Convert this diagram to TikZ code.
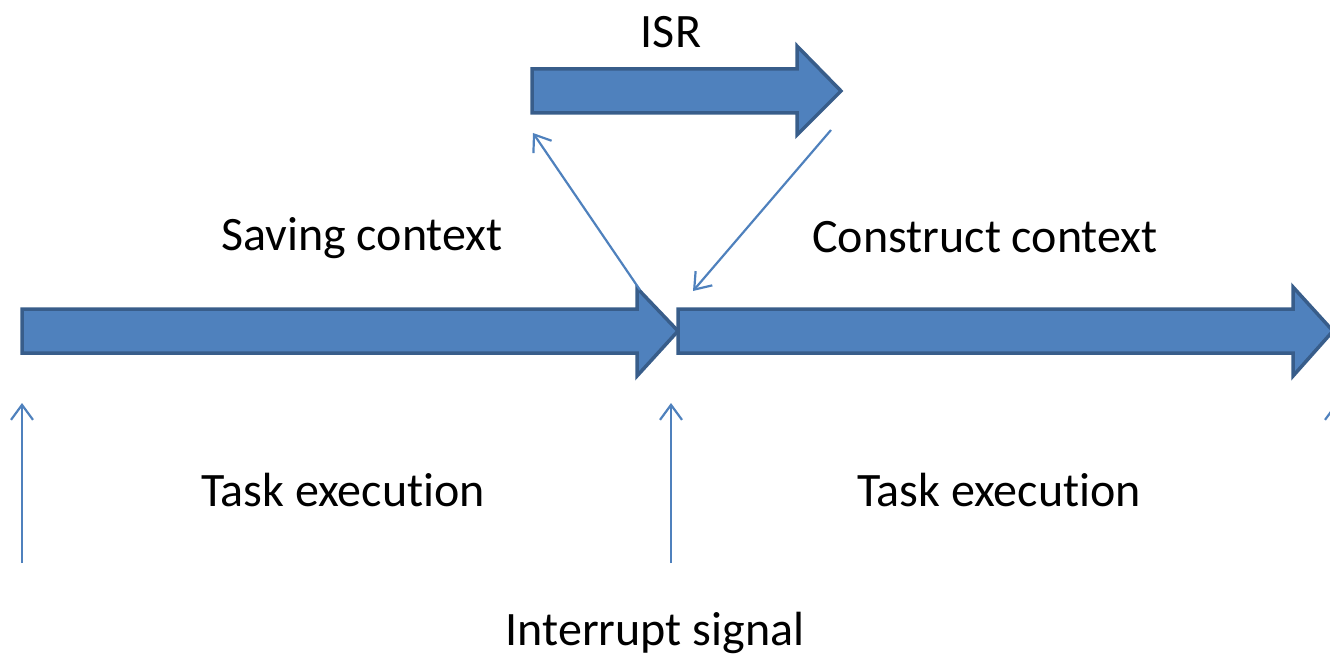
\documentclass[tikz,border=0pt]{standalone}
\usepackage{fontspec}
\setmainfont{Carlito}[RawFeature=-liga]
\usetikzlibrary{arrows.meta}
\definecolor{arrfill}{HTML}{4F81BD}
\definecolor{arrline}{HTML}{385D8A}
\begin{document}
\begin{tikzpicture}[x=1pt,y=-1pt,
  blockarrow/.style={fill=arrfill,draw=arrline,line width=3.5pt,line join=miter},
  thin/.style={draw=arrfill,line width=2.2pt,-{Straight Barb[length=15pt,width=22pt,line width=2.2pt]}},
  lbl/.style={font=\fontsize{48}{57}\selectfont,text=black,inner sep=0pt}]
\useasboundingbox (0,0) rectangle (1330,658);
% big arrows
\draw[blockarrow] (22,309) -- (637,309) -- (637,288) -- (678,331) -- (637,376) -- (637,353) -- (22,353) -- cycle;
\draw[blockarrow] (678,309) -- (1293,309) -- (1293,287) -- (1333,331) -- (1293,376) -- (1293,353) -- (678,353) -- cycle;
\draw[blockarrow] (532,69) -- (797,69) -- (797,46) -- (841,91) -- (797,135) -- (797,113) -- (532,113) -- cycle;
% coordinates
\coordinate (v1s) at (22,563);
\coordinate (v1e) at (22,403);
\coordinate (v2s) at (671,563);
\coordinate (v2e) at (671,403);
\coordinate (v3s) at (1336,563);
\coordinate (v3e) at (1336,403);
\coordinate (d1s) at (640,290);
\coordinate (d1e) at (533,133);
\coordinate (d2s) at (831,130);
\coordinate (d2e) at (693,291);
\draw[thin] (v1s) -- (v1e);
\draw[thin] (v2s) -- (v2e);
\draw[thin] (v3s) -- (v3e);
\draw[thin] (d1s) -- (d1e);
\draw[thin] (d2s) -- (d2e);
% labels
\node[lbl] (isr) at (671,32) {ISR};
\node[lbl] (save) at (362,238) {Saving context};
\node[lbl] (cons) at (985,237) {Construct context};
\node[lbl] (task1) at (343,490) {Task execution};
\node[lbl] (task2) at (999,490) {Task execution};
\node[lbl] (intr) at (655,633) {Interrupt signal};
\end{tikzpicture}
\end{document}
